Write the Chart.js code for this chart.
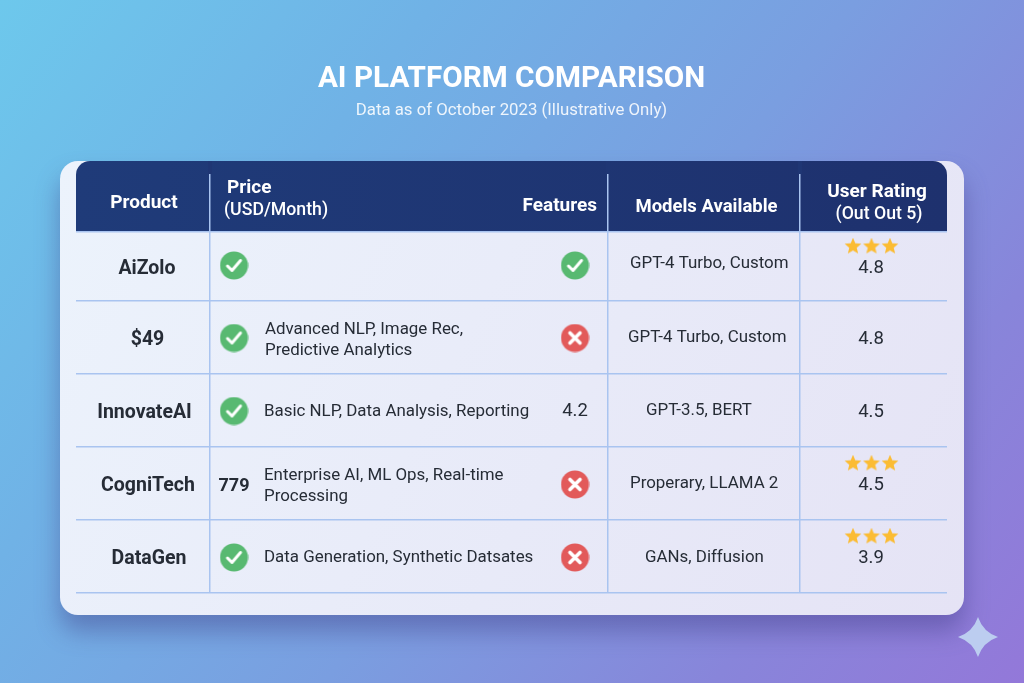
<!DOCTYPE html>
<html>
<head>
<meta charset="utf-8">
<title>AI Platform Comparison</title>
<script src="https://cdn.jsdelivr.net/npm/chart.js@4"></script>
<style>
  html, body { margin: 0; padding: 0; width: 1024px; height: 683px; overflow: hidden; }
  body { background: linear-gradient(128deg, #6dc8ec 0%, #70b2e6 28%, #7a9ee0 55%, #8885da 80%, #9378d9 100%); }
  canvas { display: block; }
</style>
</head>
<body>
<canvas id="chart" width="1024" height="683"></canvas>
<script>
// table contents
const products = ['AiZolo', '$49', 'InnovateAI', 'CogniTech', 'DataGen'];
const priceCells = ['check', 'check', 'check', '779', 'check'];
const featureLines = [
  [],
  ['Advanced NLP, Image Rec,', 'Predictive Analytics'],
  ['Basic NLP, Data Analysis, Reporting'],
  ['Enterprise AI, ML Ops, Real-time', 'Processing'],
  ['Data Generation, Synthetic Datsates']
];
const featureCells = ['check', 'cross', '4.2', 'cross', 'cross'];
const models = ['GPT-4 Turbo, Custom', 'GPT-4 Turbo, Custom', 'GPT-3.5, BERT', 'Properary, LLAMA 2', 'GANs, Diffusion'];
const ratings = ['4.8', '4.8', '4.5', '4.5', '3.9'];
const starCounts = [3, 0, 0, 3, 3];

// layout, in scale units (1 unit = 1px from the table's top left corner)
const columnEdges = [134, 532, 724];
const rowEdges = [71, 140, 213, 286, 359, 432];
const rowMid = (i) => (rowEdges[i] + rowEdges[i + 1]) / 2;
const priceX = 158;
const featureTextX = 188;
const featureMarkX = 499;
const iconDy = [-1, 0.5, 0.5, 1, 1];
const modelX = [554, 552, 570, 554, 569];
const modelDy = [-4.5, -1.5, -1.5, -1.5, -1];
const productX = [71, 71.5, 68.5, 72, 73];
const ratingX = 795;
const starX = 777;

const DARK = '#262c36';
const SANS = 'Roboto, sans-serif';

function iconCanvas(size, paint) {
  const c = document.createElement('canvas');
  c.width = size;
  c.height = size;
  paint(c.getContext('2d'), size / 2);
  return c;
}

const checkIcon = iconCanvas(29, (g, m) => {
  g.fillStyle = '#58b971';
  g.beginPath(); g.arc(m, m, 14, 0, Math.PI * 2); g.fill();
  g.strokeStyle = '#fff'; g.lineWidth = 3; g.lineCap = 'round'; g.lineJoin = 'round';
  g.beginPath(); g.moveTo(m - 6.5, m + 0.5); g.lineTo(m - 2, m + 5); g.lineTo(m + 6.5, m - 5); g.stroke();
});

const crossIcon = iconCanvas(29, (g, m) => {
  g.fillStyle = '#e25a5a';
  g.beginPath(); g.arc(m, m, 14, 0, Math.PI * 2); g.fill();
  g.strokeStyle = '#fff'; g.lineWidth = 3.6; g.lineCap = 'round';
  g.beginPath();
  g.moveTo(m - 5, m - 5); g.lineTo(m + 5, m + 5);
  g.moveTo(m + 5, m - 5); g.lineTo(m - 5, m + 5);
  g.stroke();
});

const starIcon = iconCanvas(18, (g, m) => {
  g.fillStyle = '#fbbc34';
  g.beginPath();
  for (let i = 0; i < 10; i++) {
    const r = i % 2 ? 3.9 : 8.8;
    const a = -Math.PI / 2 + i * Math.PI / 5;
    g.lineTo(m + r * Math.cos(a), m + r * Math.sin(a));
  }
  g.closePath();
  g.fill();
});

function marksOf(cells, x, kind) {
  const out = [];
  cells.forEach((c, i) => { if (c === kind) out.push({ x: x, y: rowMid(i) + iconDy[i] }); });
  return out;
}

const starPoints = [];
starCounts.forEach((n, i) => {
  for (let s = 0; s < n; s++) starPoints.push({ x: starX + s * 18.5, y: rowMid(i) - 20 });
});

function pointSet(data, icon) {
  return { data: data, pointStyle: icon, pointRadius: 14, pointHoverRadius: 14, showLine: false, clip: false };
}

function rounded(ctx, x, y, w, h, r) {
  ctx.beginPath();
  ctx.roundRect(x, y, w, h, r);
}

const tablePlugin = {
  id: 'tablePlugin',
  beforeDraw(chart) {
    const { ctx, chartArea: a, scales: { y } } = chart;
    ctx.save();
    // card
    ctx.shadowColor = 'rgba(60,55,130,0.42)';
    ctx.shadowBlur = 24;
    ctx.shadowOffsetY = 16;
    const cg = ctx.createLinearGradient(60, 161, 964, 615);
    cg.addColorStop(0, '#ecf3fc');
    cg.addColorStop(1, '#e5e3f5');
    ctx.fillStyle = cg;
    rounded(ctx, a.left - 16, a.top, a.right - a.left + 33, 454, 18);
    ctx.fill();
    ctx.shadowColor = 'transparent';
    // header band
    const hg = ctx.createLinearGradient(a.left, 0, a.right, 0);
    hg.addColorStop(0, '#1f3b79');
    hg.addColorStop(1, '#1e316e');
    ctx.fillStyle = hg;
    rounded(ctx, a.left, a.top, a.right - a.left, y.getPixelForValue(rowEdges[0]) - a.top, [14, 14, 0, 0]);
    ctx.fill();
    // sparkle in the corner
    ctx.fillStyle = '#bccdf0';
    ctx.beginPath();
    ctx.moveTo(978, 617);
    ctx.quadraticCurveTo(983, 632, 998, 637);
    ctx.quadraticCurveTo(983, 642, 978, 657);
    ctx.quadraticCurveTo(973, 642, 958, 637);
    ctx.quadraticCurveTo(973, 632, 978, 617);
    ctx.fill();
    ctx.restore();
  },
  beforeDatasetsDraw(chart) {
    const { ctx, chartArea: a, scales: { x } } = chart;
    // separators start a little below the top of the header
    ctx.save();
    ctx.fillStyle = '#1f3674';
    columnEdges.forEach((e) => ctx.fillRect(x.getPixelForValue(e) - 2, a.top, 4, 13));
    ctx.restore();
  },
  afterDatasetsDraw(chart) {
    const { ctx, scales: { x, y } } = chart;
    const put = (str, vx, vy, font, color, align) => {
      ctx.font = font;
      ctx.fillStyle = color;
      ctx.textAlign = align || 'left';
      ctx.textBaseline = 'middle';
      ctx.fillText(str, x.getPixelForValue(vx), y.getPixelForValue(vy));
    };
    ctx.save();
    const h1 = `700 19px ${SANS}`;
    const h2 = `500 17.7px ${SANS}`;
    put('Product', 68, 42, h1, '#fff', 'center');
    put('Price', 151, 27, h1, '#fff');
    put('(USD/Month)', 148, 50, h2, '#fff');
    put('Features', 521, 45, h1, '#fff', 'right');
    put('Models Available', 630.5, 46, `700 18.5px ${SANS}`, '#fff', 'center');
    put('User Rating', 801, 31, h1, '#fff', 'center');
    put('(Out Out 5)', 803, 54, h2, '#fff', 'center');

    const body = `400 16.9px ${SANS}`;
    const rate = `400 18.5px ${SANS}`;
    products.forEach((p, i) => {
      put(p, productX[i], rowMid(i) + 2.5, `700 19.5px ${SANS}`, DARK, 'center');
      if (priceCells[i] !== 'check') put(priceCells[i], priceX, rowMid(i) + 3, `700 18px ${SANS}`, DARK, 'center');
      const lines = featureLines[i];
      lines.forEach((l, k) => {
        const dy = lines.length > 1 ? (k ? 13.5 : -7.5) : 1;
        put(l, featureTextX + (lines.length > 1 && i === 1 ? 1 : 0), rowMid(i) + dy, body, DARK);
      });
      if (featureCells[i] !== 'check' && featureCells[i] !== 'cross') {
        put(featureCells[i], featureMarkX, rowMid(i) + 1, rate, DARK, 'center');
      }
      put(models[i], modelX[i], rowMid(i) + modelDy[i] + 2, body, DARK);
      put(ratings[i], ratingX, rowMid(i) + 2, rate, DARK, 'center');
    });
    ctx.restore();
  }
};

const edgeTicks = (edges) => (scale) => { scale.ticks = edges.map((v) => ({ value: v })); };
const gridLine = { color: '#a9c4f0', lineWidth: 1.5, drawTicks: false };

new Chart(document.getElementById('chart'), {
  type: 'scatter',
  data: {
    datasets: [
      pointSet(marksOf(priceCells, priceX, 'check').concat(marksOf(featureCells, featureMarkX, 'check')), checkIcon),
      pointSet(marksOf(featureCells, featureMarkX, 'cross'), crossIcon),
      pointSet(starPoints, starIcon)
    ]
  },
  options: {
    responsive: false,
    animation: false,
    events: [],
    layout: { padding: { left: 76, right: 77, top: 0, bottom: 90 } },
    scales: {
      x: {
        type: 'linear', min: 0, max: 871,
        afterBuildTicks: edgeTicks(columnEdges),
        grid: gridLine, border: { display: false }, ticks: { display: false }
      },
      y: {
        type: 'linear', reverse: true, min: 0, max: 432,
        afterBuildTicks: edgeTicks(rowEdges),
        grid: gridLine, border: { display: false }, ticks: { display: false }
      }
    },
    plugins: {
      legend: { display: false },
      tooltip: { enabled: false },
      title: {
        display: true,
        text: 'AI PLATFORM COMPARISON',
        color: '#ffffff',
        font: { family: SANS, size: 29.7, weight: 'bold', lineHeight: 1.2 },
        padding: { top: 62, bottom: 0 }
      },
      subtitle: {
        display: true,
        text: 'Data as of October 2023 (Illustrative Only)',
        color: 'rgba(255,255,255,0.88)',
        font: { family: SANS, size: 16.8, weight: 'normal', lineHeight: 1.2 },
        padding: { top: 2.8, bottom: 40.4 }
      }
    }
  },
  plugins: [tablePlugin]
});
</script>
</body>
</html>
